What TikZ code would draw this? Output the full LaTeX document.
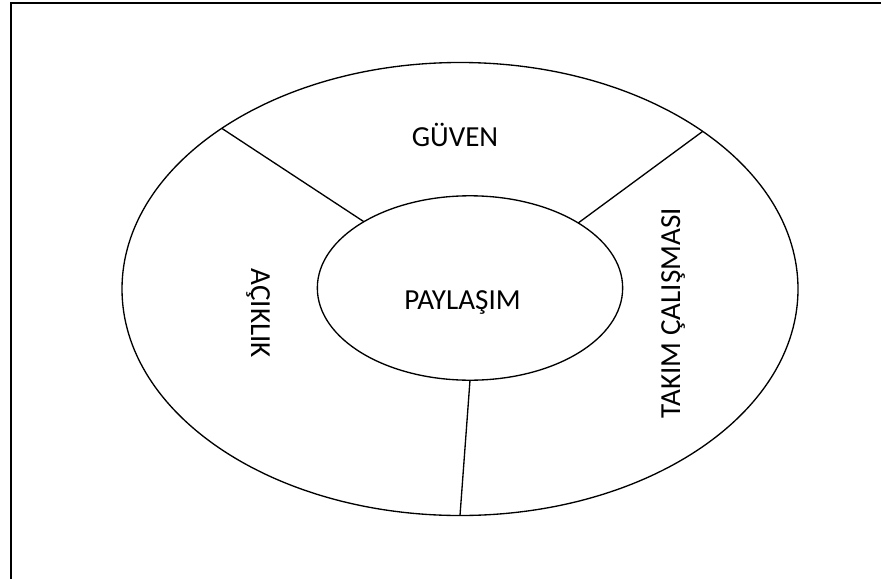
\documentclass[tikz,border=0pt]{standalone}
\usepackage{fontspec}
\setmainfont{Carlito}
\usetikzlibrary{shapes.geometric}

\tikzset{
  ring/.style={draw, ellipse, line width=1pt, inner sep=0pt, outer sep=0pt},
  divider/.style={draw, line width=1pt},
  label/.style={inner sep=0pt, font=\fontsize{21.8pt}{26pt}\selectfont},
  frame/.style={draw, line width=1.5pt}
}

\begin{document}
\begin{tikzpicture}[x=0.75pt, y=-0.75pt]
  \useasboundingbox (0,0) rectangle (881,578);
  \clip (0,0) rectangle (881,578);

  % page frame (only its left and top edges fall inside the picture)
  \draw[frame] (10.8,3.3) rectangle (950,650);

  % outer ring and inner core
  \node[ring, minimum width=507pt, minimum height=339.75pt] (outer) at (460,289) {};
  \node[ring, minimum width=229pt, minimum height=138.3pt] (inner) at (470,288) {};

  % spokes splitting the ring into three sectors
  \draw[divider] (outer.146) -- (inner.148.8);
  \draw[divider] (outer.33.8) -- (inner.31);
  \draw[divider] (outer.270) -- (inner.270);

  % sector and core labels
  \node[label, anchor=base] (guven) at (455,146) {GÜVEN};
  \node[label, anchor=base] (paylasim) at (462.5,309.3) {PAYLAŞIM};
  \node[label, anchor=base, rotate=-90] (aciklik) at (251,313.3) {AÇIKLIK};
  \node[label, anchor=base, rotate=90] (takim) at (680,313.3) {TAKIM ÇALIŞMASI};
\end{tikzpicture}
\end{document}
